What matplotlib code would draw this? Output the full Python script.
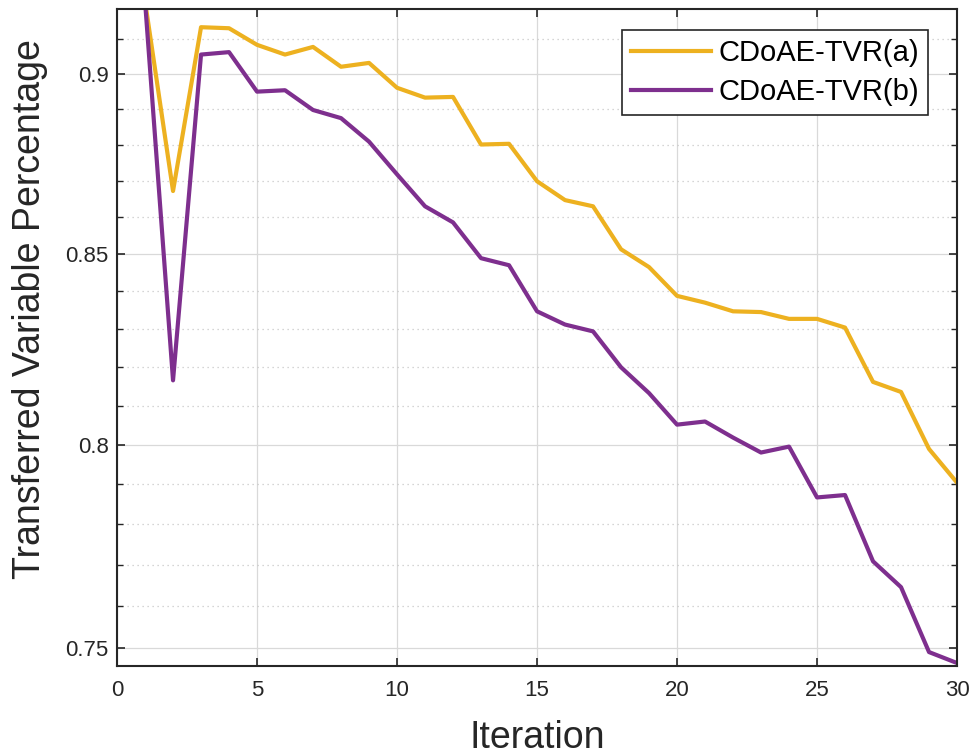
import matplotlib.pyplot as plt
import numpy as np
from matplotlib.ticker import FixedLocator, NullFormatter

plt.rcParams['font.family'] = ['Liberation Sans', 'DejaVu Sans']

iteration = list(range(1, 31))
tvr_a = [0.921, 0.8671, 0.9134, 0.9131, 0.9083, 0.9055, 0.9077, 0.9020, 0.9031, 0.8960,
         0.8932, 0.8934, 0.8800, 0.8802, 0.8698, 0.8646, 0.8629, 0.8512, 0.8464, 0.8387,
         0.8369, 0.8346, 0.8344, 0.8326, 0.8326, 0.8303, 0.8161, 0.8135, 0.7989, 0.7904]
tvr_b = [0.921, 0.8165, 0.9055, 0.9062, 0.8949, 0.8953, 0.8897, 0.8874, 0.8808, 0.8717,
         0.8629, 0.8585, 0.8488, 0.8469, 0.8346, 0.8311, 0.8293, 0.8199, 0.8132, 0.8051,
         0.8059, 0.8018, 0.7980, 0.7995, 0.7867, 0.7873, 0.7709, 0.7646, 0.7490, 0.7464]
series_names = ['CDoAE-TVR(a)', 'CDoAE-TVR(b)']
y_ticks = [0.75, 0.8, 0.85, 0.9]
y_ticklabels = ['0.75', '0.8', '0.85', '0.9']

fig = plt.figure(figsize=(9.72, 7.55), dpi=100)
ax = fig.add_axes([0.1204, 0.1179, 0.8642, 0.8702])

ax.plot(iteration, tvr_a, color='#EDB120', lw=3.0, label=series_names[0])
ax.plot(iteration, tvr_b, color='#7E2F8E', lw=3.0, label=series_names[1])

ax.set_yscale('log')
ax.set_xlim(0, 30)
ax.set_ylim(0.7457, 0.9187)
ax.set_xticks(np.arange(0, 31, 5))
ax.yaxis.set_major_locator(FixedLocator(y_ticks))
ax.set_yticklabels(y_ticklabels)
minor = [round(v, 2) for v in np.arange(0.76, 0.92, 0.01) if round(v, 2) not in y_ticks]
ax.yaxis.set_minor_locator(FixedLocator(minor))
ax.yaxis.set_minor_formatter(NullFormatter())

ax.grid(True, which='major', color='#d9d9d9', lw=0.9)
ax.grid(True, which='minor', axis='y', color='#c8c8c8', lw=0.9, ls=(0, (1, 3)))
ax.set_axisbelow(True)

ax.tick_params(which='both', direction='in', top=True, right=True, colors='#262626',
               labelsize=16)
ax.tick_params(which='major', length=6, width=1.2)
ax.tick_params(which='minor', length=4, width=1.0)
ax.tick_params(axis='x', pad=10)
ax.tick_params(axis='y', pad=6)
for s in ax.spines.values():
    s.set_color('#262626')
    s.set_linewidth(1.5)

ax.set_xlabel('Iteration', fontsize=27, color='#262626')
ax.set_ylabel('Transferred Variable Percentage', fontsize=27, color='#262626')
ax.xaxis.set_label_coords(0.5, -0.082)
ax.yaxis.set_label_coords(-0.082, 0.543)

leg = ax.legend(loc='upper right', fontsize=21, handlelength=2.75, handletextpad=0.25,
                borderpad=0.3, labelspacing=0.4, borderaxespad=0, fancybox=False,
                framealpha=1, edgecolor='#262626', bbox_to_anchor=(0.9654, 0.968))
leg.get_frame().set_linewidth(1.2)

fig.savefig('out.png', dpi=100)
